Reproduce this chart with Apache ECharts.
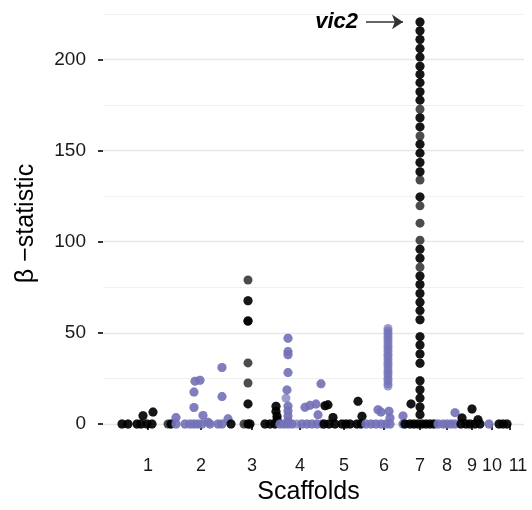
<!DOCTYPE html>
<html>
<head>
<meta charset="utf-8">
<script src="https://cdn.jsdelivr.net/npm/echarts@6/dist/echarts.min.js"></script>
<style>html,body{margin:0;padding:0;background:#fff}#chart{width:532px;height:510px}</style>
</head>
<body>
<div id="chart"></div>
<script>
// Each point: [cumulative genome position, beta statistic, number of overlapping SNPs]
const scaffoldLabels = ['1','2','3','4','5','6','7','8','9','10','11'];
const scaffoldTickPos = [48,101,152,200,244,284,320,347,372,392,410];
const scaffoldLabelPos = [48,101,152,200,244,284,320,347,372,392,418];
const yTicks = [0,50,100,150,200];
const yMinorTicks = [25,75,125,175,225];

const scaffold1 = [[22,0,2],[28,0,2],[37,0,2],[41,0,2],[47,0,2],[52,0,2],[43,4.5,2],[53,6.5,2],[68,0,1],[71,0,2]];
const scaffold2 = [[76,3.5,2],[76,0,2],[85,0,2],[90,0,2],[94,0,2],[98,0,2],[102,0,2],[95,23.5,2],[100,24,2],[94,17.5,2],[94,9,2],[103,4.7,2],[108,1,2],[110,0,2],[118,0,2],[122,0,2],[122,31,2],[122,15,2],[128,2.8,2]];
const scaffold3 = [[131,0,2],[144,0,1],[148,0,2],[150,0,2],[148,79,1],[148,67.6,2],[148,56.5,3],[148,33.5,1],[148,22.5,1],[148,11,2],[165,0,2],[170,0,2],[175,0,2],[177,2.3,2],[177,4.2,2],[176,6.9,2],[176,9.7,2]];
const scaffold4 = [[188,47,2],[188,39.7,2],[188,38,2],[188,28.2,2],[187,18.7,2],[186,14.2,1],[188,9.8,2],[188,7.1,2],[188,4.4,2],[188,1.6,2],[180,0,2],[184,0,2],[188,0,2],[192,0,2],[197,0,1],[202,0,2],[207,0,2],[212,0,2],[217,0,2],[222,0,2],[205,9.1,2],[210,10.2,2],[216,10.9,2],[221,22,2],[218,5,2]];
const scaffold5 = [[225,10,2],[228,10.5,2],[224,0,2],[229,0,2],[233,3.6,2],[235,0,2],[242,0,2],[246,0,2],[250,0,2],[258,12.4,2],[262,4.2,2],[257,0,2],[261,0,2]];
const scaffold6 = [[266,0,2],[271,0,2],[276,0,2],[281,0,2],[286,0,2],[290,0,2],[278,7.8,2],[281,6.5,2],[289,7,2],[290,3.3,2],[303,4.4,2],[303,0,2],
  [288,20.8,1],[288,22,1],[288,23.7,1],[288,25,1],[288,26.8,1],[288,28.1,1],[288,29.5,1],[288,31.2,1],[288,32.6,1],[288,33.9,1],[288,35.5,1],[288,37,1],[288,38.2,1],[288,39.9,1],[288,41.3,1],[288,42.6,1],[288,44.1,1],[288,45.6,1],[288,47,1],[288,48.3,1],[288,49.8,1],[288,51,1],[288,52.4,1]];
const scaffold7 = [[320,220.6,2],[320,215.8,2],[320,211,2],[320,206,2],[320,201.3,2],[320,196.3,2],[320,191.8,2],[320,187.3,2],[320,182.3,2],[320,177.7,2],[320,172.7,1],[320,168,2],[320,163,2],[320,158,1],[320,153.5,2],[320,148.6,2],[320,143.5,2],[320,138.4,2],[320,133.9,1],[320,124.6,2],[320,119.7,1],[320,110.2,1],[320,100.8,1],[320,95.9,2],[320,90.9,2],[320,86,1],[320,81.2,2],[320,76.5,2],[320,71.6,2],[320,66.8,2],[320,62.2,2],[320,57.2,2],[320,47.9,2],[320,43.3,2],[320,38.4,2],[320,33.3,2],[320,23.7,2],[320,18.8,2],[320,14.2,2],[320,9.3,2],[320,5.1,2],
  [305,0,2],[310,0,2],[314,0,2],[318,0,2],[322,0,2],[326,0,2],[330,0,2],[334,0,2],[311,11,2]];
const scaffold8 = [[338,0,2],[343,0,2],[347,0,2],[351,0,2],[355,0,2],[355,6.2,2]];
const scaffold9 = [[362,3.3,2],[372,8.2,2],[378,2.3,2],[361,0,2],[366,0,2],[370,0,2],[375,0,2],[380,0,2]];
const scaffold10 = [[389,0,2]];
const scaffold11 = [[399,0,2],[403,0,2],[407,0,2]];

const scaffolds = [scaffold1,scaffold2,scaffold3,scaffold4,scaffold5,scaffold6,scaffold7,scaffold8,scaffold9,scaffold10,scaffold11];
const colors = ['#000000', '#7472b8'];
const FONT = "'Liberation Sans', Arial, Helvetica, sans-serif";

function expand(arr) {
  const out = [];
  arr.forEach(p => { for (let i = 0; i < p[2]; i++) out.push([p[0], p[1]]); });
  return out;
}

// annotation anchored to top point of scaffold 7
let peak = scaffold7[0];
scaffold7.forEach(p => { if (p[1] > peak[1]) peak = p; });

const series = scaffolds.map((s, i) => {
  const ser = {
    type: 'scatter',
    name: 'Scaffold ' + scaffoldLabels[i],
    data: expand(s),
    symbol: 'circle',
    symbolSize: 9,
    itemStyle: { color: colors[i % 2], opacity: 0.7 },
    emphasis: { disabled: true },
    z: 3
  };
  if (i === 6) {
    ser.markLine = {
      silent: true,
      animation: false,
      symbol: ['none', 'arrow'],
      symbolSize: 11,
      lineStyle: { color: '#333', width: 1.6, type: 'solid' },
      itemStyle: { color: '#333' },
      label: {
        show: true, position: 'start', distance: 8,
        formatter: 'vic2', color: '#000',
        fontSize: 22, fontWeight: 'bold', fontStyle: 'italic', fontFamily: FONT
      },
      data: [[{ coord: [peak[0] - 54, peak[1]] }, { coord: [peak[0] - 17, peak[1]] }]]
    };
  }
  return ser;
});

const chart = echarts.init(document.getElementById('chart'), null, { renderer: 'canvas' });
chart.setOption({
  animation: false,
  backgroundColor: '#ffffff',
  grid: { left: 103, right: 8, top: 3, bottom: 64, containLabel: false },
  xAxis: {
    type: 'value', min: 3, max: 424,
    name: 'Scaffolds', nameLocation: 'middle', nameGap: 36,
    nameTextStyle: { fontSize: 25, color: '#000', fontFamily: FONT, padding: [0, 10, 0, 0] },
    axisLine: { show: false },
    axisTick: { show: true, length: 6, customValues: scaffoldTickPos, lineStyle: { color: '#333', width: 2 } },
    axisLabel: {
      show: true, margin: 13, fontSize: 18, color: '#1a1a1a', fontFamily: FONT,
      customValues: scaffoldLabelPos,
      formatter: v => scaffoldLabels[scaffoldLabelPos.indexOf(v)] || ''
    },
    splitLine: { show: false }
  },
  yAxis: [{
    type: 'value', min: -11, max: 231,
    name: 'β −statistic', nameLocation: 'middle', nameGap: 64, nameRotate: 90,
    nameTextStyle: { fontSize: 25, color: '#000', fontFamily: FONT },
    axisLine: { show: false },
    axisTick: { show: true, length: 5, customValues: yTicks, lineStyle: { color: '#333', width: 2 } },
    axisLabel: { show: true, margin: 17, fontSize: 19, color: '#1a1a1a', fontFamily: FONT, customValues: yTicks },
    splitLine: { show: true, lineStyle: { color: '#e6e6e6', width: 1.3 } }
  }, {
    type: 'value', min: -11, max: 231, position: 'left',
    axisLine: { show: false },
    axisTick: { show: false, customValues: yMinorTicks },
    axisLabel: { show: false, customValues: yMinorTicks },
    splitLine: { show: true, lineStyle: { color: '#f0f0f0', width: 1 } }
  }],
  series: series
});
</script>
</body>
</html>
